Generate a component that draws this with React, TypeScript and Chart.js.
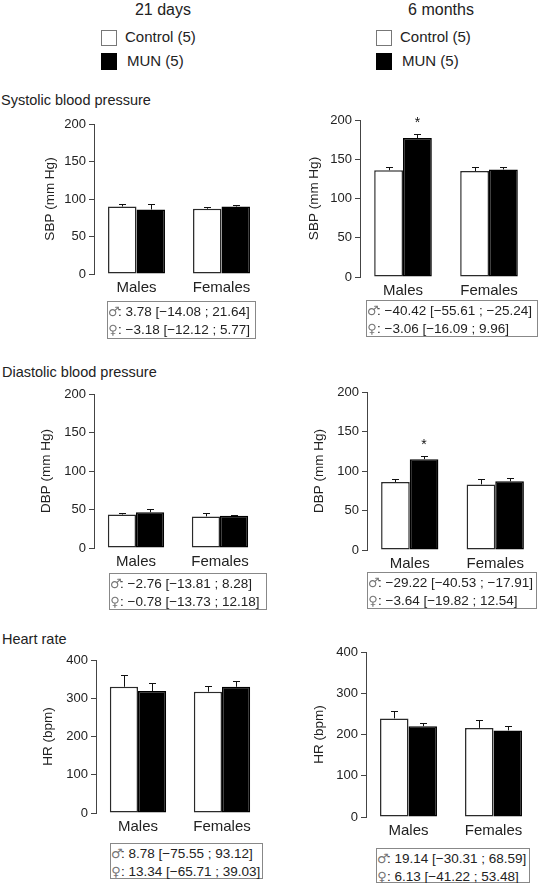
import React, { useEffect, useRef } from 'react';
import { Chart, registerables } from 'chart.js';

Chart.register(...registerables);

const FONT = '"Liberation Sans", Arial, Helvetica, sans-serif';
const INK = '#222';
const AXIS = '#444';

// ---------- data ----------
const categories = ['Males', 'Females'];
const seriesNames = ['Control (5)', 'MUN (5)'];

const sbp21Control = [90, 87];
const sbp21ControlErr = [3, 2.5];
const sbp21Mun = [86, 90];
const sbp21MunErr = [7, 2.5];

const sbp6Control = [136, 135];
const sbp6ControlErr = [4, 5];
const sbp6Mun = [177, 137];
const sbp6MunErr = [5, 3.5];

const dbp21Control = [43.5, 41];
const dbp21ControlErr = [2, 5];
const dbp21Mun = [46.5, 42];
const dbp21MunErr = [4, 1];

const dbp6Control = [86, 83];
const dbp6ControlErr = [4, 6.5];
const dbp6Mun = [115, 87];
const dbp6MunErr = [3.5, 4];

const hr21Control = [330, 317];
const hr21ControlErr = [30, 16];
const hr21Mun = [319, 330];
const hr21MunErr = [20, 16];

const hr6Control = [239, 216];
const hr6ControlErr = [19, 18];
const hr6Mun = [220, 210];
const hr6MunErr = [8, 10];

const bpTicks = { max: 200, step: 50 };
const hrTicks = { max: 400, step: 100 };

const MALE = '\u2642';
const FEMALE = '\u2640';
const ciSbp21 = [': 3.78 [\u221214.08 ; 21.64]', ': \u22123.18 [\u221212.12 ; 5.77]'];
const ciSbp6 = [': \u221240.42 [\u221255.61 ; \u221225.24]', ': \u22123.06 [\u221216.09 ; 9.96]'];
const ciDbp21 = [': \u22122.76 [\u221213.81 ; 8.28]', ': \u22120.78 [\u221213.73 ; 12.18]'];
const ciDbp6 = [': \u221229.22 [\u221240.53 ; \u221217.91]', ': \u22123.64 [\u221219.82 ; 12.54]'];
const ciHr21 = [': 8.78 [\u221275.55 ; 93.12]', ': 13.34 [\u221265.71 ; 39.03]'];
const ciHr6 = [': 19.14 [\u221230.31 ; 68.59]', ': 6.13 [\u221241.22 ; 53.48]'];

// significant bars: [datasetIndex, categoryIndex]
const sbp6Stars = [[1, 0]];
const dbp6Stars = [[1, 0]];
const noStars: number[][] = [];

// ---------- layout ----------
type PanelCfg = {
  x: number; y: number; w: number; h: number;
  yw: number; padTop: number; titlePad: number;
  yTitle: string; ticks: { max: number; step: number };
  control: number[]; controlErr: number[]; mun: number[]; munErr: number[];
  stars: number[][];
  ci: string[]; box: { x: number; y: number; w: number; h: number };
};

const XH = 30;

const panels: PanelCfg[] = [
  { x: 0, y: 112, w: 264, h: 192, yw: 94, padTop: 12, titlePad: 43, yTitle: 'SBP (mm Hg)', ticks: bpTicks,
    control: sbp21Control, controlErr: sbp21ControlErr, mun: sbp21Mun, munErr: sbp21MunErr, stars: noStars,
    ci: ciSbp21, box: { x: 107, y: 301, w: 149, h: 38 } },
  { x: 280, y: 108, w: 252, h: 199, yw: 80, padTop: 12, titlePad: 27, yTitle: 'SBP (mm Hg)', ticks: bpTicks,
    control: sbp6Control, controlErr: sbp6ControlErr, mun: sbp6Mun, munErr: sbp6MunErr, stars: sbp6Stars,
    ci: ciSbp6, box: { x: 366, y: 300, w: 172, h: 37 } },
  { x: 0, y: 382, w: 262, h: 196, yw: 94, padTop: 12, titlePad: 39, yTitle: 'DBP (mm Hg)', ticks: bpTicks,
    control: dbp21Control, controlErr: dbp21ControlErr, mun: dbp21Mun, munErr: dbp21MunErr, stars: noStars,
    ci: ciDbp21, box: { x: 109, y: 573, w: 158, h: 37 } },
  { x: 280, y: 380, w: 258, h: 200, yw: 87, padTop: 12, titlePad: 32, yTitle: 'DBP (mm Hg)', ticks: bpTicks,
    control: dbp6Control, controlErr: dbp6ControlErr, mun: dbp6Mun, munErr: dbp6MunErr, stars: dbp6Stars,
    ci: ciDbp6, box: { x: 367, y: 572, w: 170, h: 37 } },
  { x: 0, y: 648, w: 264, h: 195, yw: 96, padTop: 12, titlePad: 41, yTitle: 'HR (bpm)', ticks: hrTicks,
    control: hr21Control, controlErr: hr21ControlErr, mun: hr21Mun, munErr: hr21MunErr, stars: noStars,
    ci: ciHr21, box: { x: 110, y: 843, w: 153, h: 36 } },
  { x: 280, y: 640, w: 256, h: 207, yw: 86, padTop: 12, titlePad: 32, yTitle: 'HR (bpm)', ticks: hrTicks,
    control: hr6Control, controlErr: hr6ControlErr, mun: hr6Mun, munErr: hr6MunErr, stars: noStars,
    ci: ciHr6, box: { x: 376, y: 848, w: 154, h: 35 } },
];

function makeErrorPlugin(errs: number[][], stars: number[][]) {
  return {
    id: 'errorBars',
    afterDatasetsDraw(chart: any) {
      const ctx = chart.ctx;
      const yScale = chart.scales.y;
      ctx.save();
      ctx.strokeStyle = '#111';
      ctx.lineWidth = 1;
      chart.data.datasets.forEach((ds: any, di: number) => {
        const meta = chart.getDatasetMeta(di);
        meta.data.forEach((el: any, i: number) => {
          const v = ds.data[i];
          const e = errs[di][i];
          const top = Math.round(yScale.getPixelForValue(v + e)) + 0.5;
          const x = Math.round(el.x) + 0.5;
          ctx.beginPath();
          ctx.moveTo(x, el.y);
          ctx.lineTo(x, top);
          ctx.moveTo(x - 3.5, top);
          ctx.lineTo(x + 3.5, top);
          ctx.stroke();
        });
      });
      ctx.fillStyle = '#111';
      ctx.font = `14px ${FONT}`;
      ctx.textAlign = 'center';
      ctx.textBaseline = 'middle';
      stars.forEach(([di, i]) => {
        const el = chart.getDatasetMeta(di).data[i];
        const v = chart.data.datasets[di].data[i] + errs[di][i];
        const top = yScale.getPixelForValue(v);
        ctx.fillText('*', el.x, top - 11);
      });
      ctx.restore();
    },
  };
}

function Panel({ cfg }: { cfg: PanelCfg }) {
  const ref = useRef<HTMLCanvasElement | null>(null);
  useEffect(() => {
    if (!ref.current) return;
    const chart = new Chart(ref.current, {
      type: 'bar',
      data: {
        labels: categories,
        datasets: [
          { label: seriesNames[0], data: cfg.control, backgroundColor: '#fff', borderColor: '#2a2a2a', borderWidth: 1.5,
            borderSkipped: false, categoryPercentage: 0.67, barPercentage: 1 },
          { label: seriesNames[1], data: cfg.mun, backgroundColor: '#000', borderColor: '#000', borderWidth: 1.5,
            borderSkipped: false, categoryPercentage: 0.67, barPercentage: 1 },
        ],
      } as any,
      options: {
        responsive: false,
        animation: false,
        devicePixelRatio: 1,
        layout: { padding: { top: cfg.padTop, left: 0, right: 0, bottom: 0 } },
        plugins: { legend: { display: false }, tooltip: { enabled: false } },
        scales: {
          x: {
            grid: { display: false, drawTicks: false },
            border: { display: false },
            ticks: { color: INK, font: { family: FONT, size: 15 }, padding: 5, maxRotation: 0 },
            afterFit: (s: any) => { s.height = XH; },
          },
          y: {
            min: 0,
            max: cfg.ticks.max,
            ticks: { stepSize: cfg.ticks.step, color: INK, font: { family: FONT, size: 13 }, padding: 3 },
            grid: { drawOnChartArea: false, drawTicks: true, tickLength: 5, color: AXIS, lineWidth: 1 },
            border: { display: true, color: AXIS, width: 1 },
            title: { display: true, text: cfg.yTitle, color: INK, font: { family: FONT, size: 13.5 }, padding: { top: cfg.titlePad - 1, bottom: 0 } },
            afterFit: (s: any) => { s.width = cfg.yw; },
          },
        },
      } as any,
      plugins: [makeErrorPlugin([cfg.controlErr, cfg.munErr], cfg.stars)],
    });
    return () => chart.destroy();
  }, []);
  return (
    <canvas
      ref={ref}
      width={cfg.w}
      height={cfg.h}
      style={{ position: 'absolute', left: cfg.x, top: cfg.y, width: cfg.w, height: cfg.h }}
    />
  );
}

function Legend({ x, y }: { x: number; y: number }) {
  return (
    <>
      <div style={{ position: 'absolute', left: x, top: y, width: 14, height: 14, border: '1px solid #777', background: '#fff' }} />
      <div style={{ position: 'absolute', left: x + 24, top: y - 3, fontSize: 15, lineHeight: '20px', whiteSpace: 'nowrap' }}>{seriesNames[0]}</div>
      <div style={{ position: 'absolute', left: x, top: y + 23, width: 16, height: 17, background: '#000' }} />
      <div style={{ position: 'absolute', left: x + 26, top: y + 21, fontSize: 15, lineHeight: '20px', whiteSpace: 'nowrap' }}>{seriesNames[1]}</div>
    </>
  );
}

const symStyle: React.CSSProperties = {
  display: 'inline-block', width: 10, fontFamily: '"DejaVu Sans", sans-serif', fontSize: 13, color: '#777',
  textAlign: 'center', verticalAlign: 'top', lineHeight: '18px',
};

function CiBox({ cfg }: { cfg: PanelCfg }) {
  const b = cfg.box;
  return (
    <div style={{ position: 'absolute', left: b.x, top: b.y, width: b.w, height: b.h, border: '1px solid #888',
      boxSizing: 'border-box', fontSize: 13.5, lineHeight: '18px', padding: '1px 0 0 0', whiteSpace: 'nowrap', overflow: 'visible' }}>
      <div><span style={symStyle}>{MALE}</span>{cfg.ci[0]}</div>
      <div><span style={symStyle}>{FEMALE}</span>{cfg.ci[1]}</div>
    </div>
  );
}

const label = (text: string, x: number, y: number, size: number, center = false) => (
  <div style={{ position: 'absolute', left: center ? x - 100 : x, top: y - size * 0.6, width: center ? 200 : undefined,
    textAlign: center ? 'center' : 'left', fontSize: size, lineHeight: `${size * 1.2}px`, whiteSpace: 'nowrap' }}>{text}</div>
);

export default function App() {
  return (
    <div style={{ position: 'absolute', left: 0, top: 0, width: 545, height: 883, background: '#fff', fontFamily: FONT, color: INK, overflow: 'hidden' }}>
      {label('21 days', 163, 10, 16, true)}
      {label('6 months', 441, 10, 16, true)}
      <Legend x={101} y={30} />
      <Legend x={376} y={30} />
      {label('Systolic blood pressure', 1, 101, 14.5)}
      {label('Diastolic blood pressure', 2, 373, 14.5)}
      {label('Heart rate', 2, 640, 14.5)}
      {panels.map((p, i) => <Panel key={i} cfg={p} />)}
      {panels.map((p, i) => <CiBox key={'b' + i} cfg={p} />)}
    </div>
  );
}
